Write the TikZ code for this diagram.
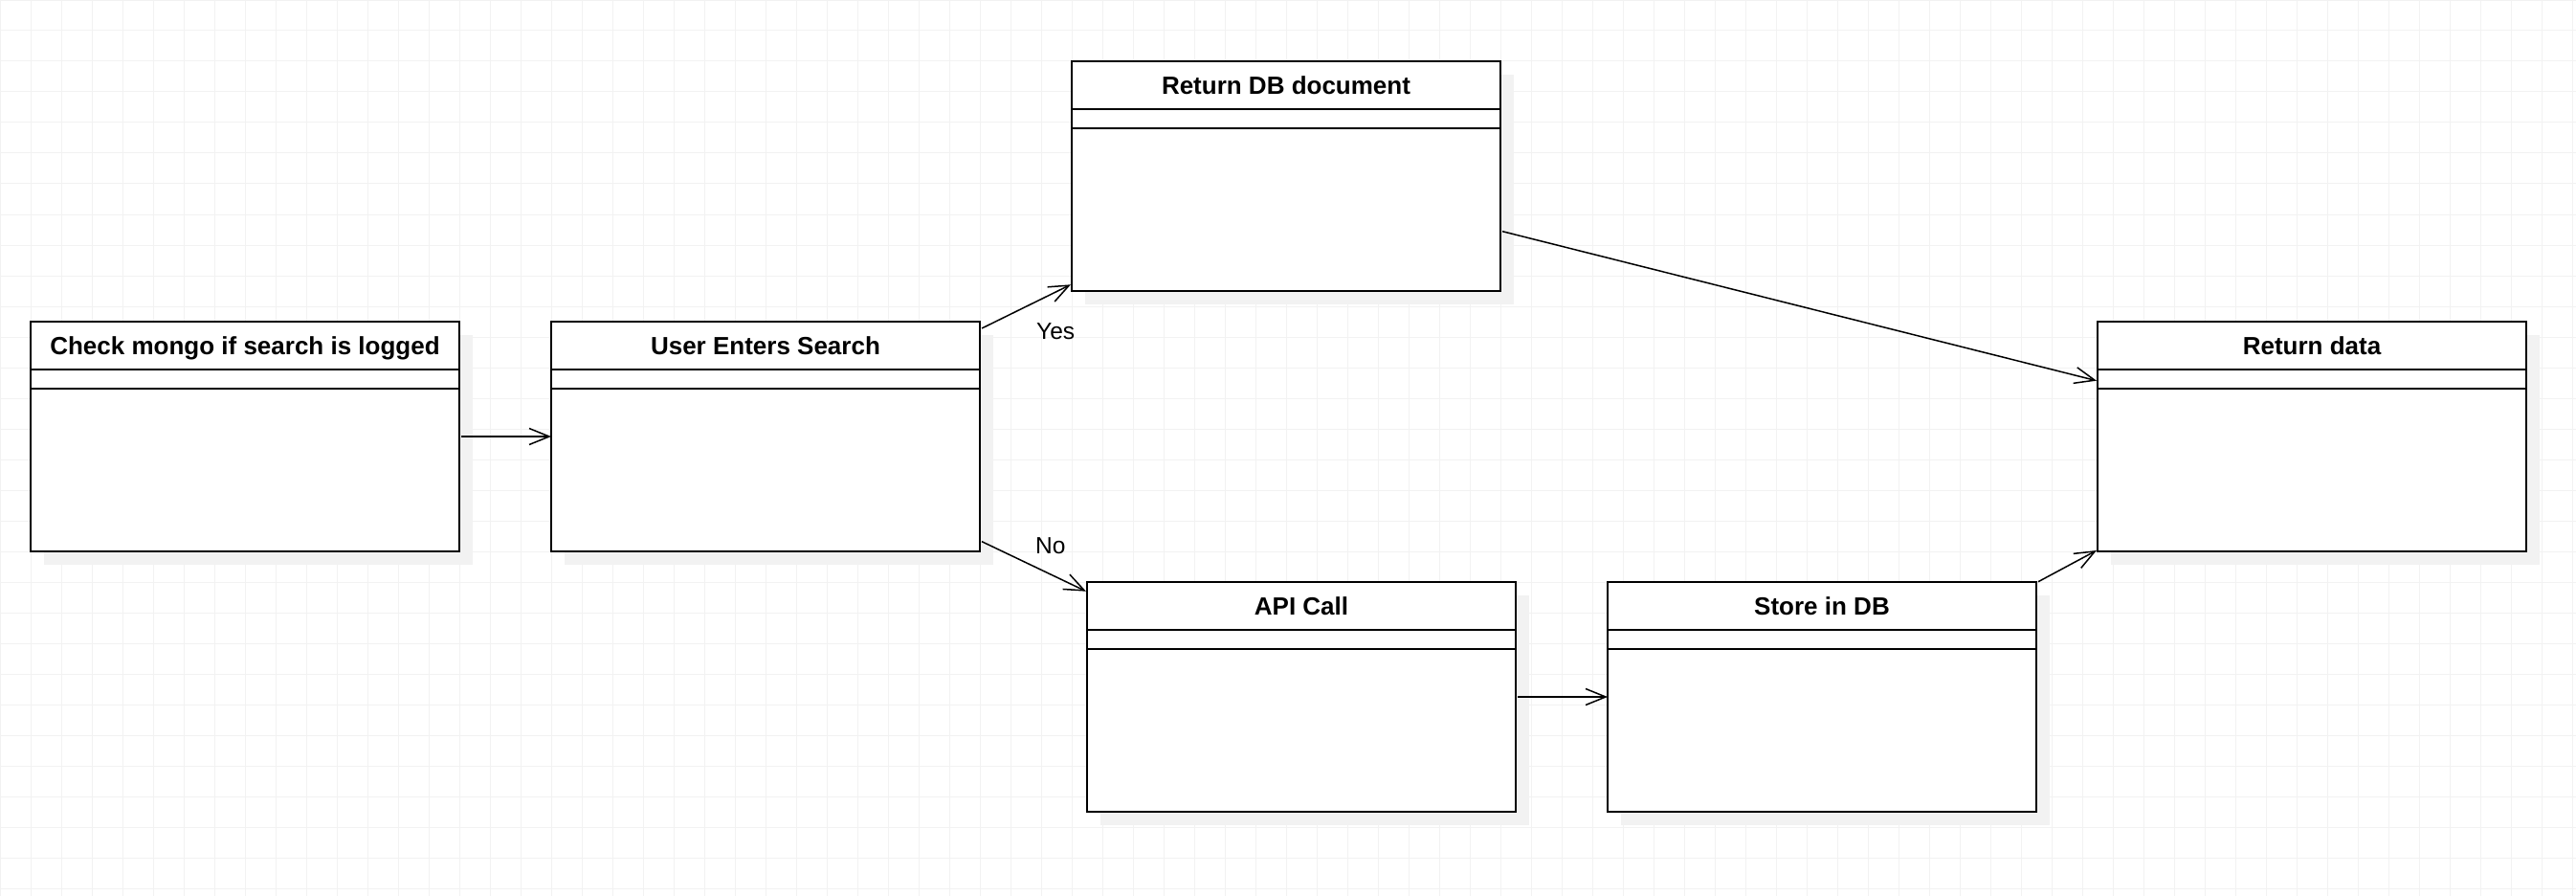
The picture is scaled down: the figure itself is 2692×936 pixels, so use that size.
\documentclass[tikz,border=0pt]{standalone}
\usepackage{fontspec}
\setmainfont{Liberation Sans}
\usetikzlibrary{arrows.meta,calc}
\definecolor{gridc}{RGB}{242,242,242}
\definecolor{shadowc}{RGB}{242,242,242}
\newcommand\umlclass[4]{%
  \fill[shadowc] (#2+14,-#3-14) rectangle (#2+462,-#3-254);
  \node[classbox] (#1) at (#2,-#3) {};
  \draw[divline] ($(#1.north west)+(0,-50)$) -- ($(#1.north east)+(0,-50)$);
  \draw[divline] ($(#1.north west)+(0,-70)$) -- ($(#1.north east)+(0,-70)$);
  \node[classtitle] (#1-t) at ($(#1.north)+(0,-34.5)$) {#4};
}
\begin{document}
\begin{tikzpicture}[x=1pt,y=1pt,
  classbox/.style={draw=black, line width=1.6pt, fill=white, minimum width=448pt, minimum height=240pt, inner sep=0pt, outer sep=0pt, anchor=north west},
  divline/.style={draw=black, line width=1.6pt},
  classtitle/.style={font=\bfseries\fontsize{26}{30}\selectfont, anchor=base, inner sep=0pt},
  lbl/.style={font=\fontsize{24.5}{29}\selectfont, anchor=base west, inner sep=0pt},
  conn/.style={draw=black, line width=1.5pt, -{Straight Barb[length=21pt,width=17pt]}},
]
\useasboundingbox (0,0) rectangle (2692,-936);
\fill[white] (0,0) rectangle (2692,-936);
\draw[gridc, line width=1pt, step=32pt] (0,-936) grid (2692,0);

\umlclass{check}{32}{336}{Check mongo if search is logged}
\umlclass{user}{576}{336}{User Enters Search}
\umlclass{retdb}{1120}{64}{Return DB document}
\umlclass{retdata}{2192}{336}{Return data}
\umlclass{api}{1136}{608}{API Call}
\umlclass{store}{1680}{608}{Store in DB}

\draw[conn] ([xshift=2pt]check.east) -- (user.west);
\draw[conn] ([shift={(2pt,-7pt)}]user.north east) -- ([shift={(-1pt,6.7pt)}]retdb.south west);
\draw[conn] ([shift={(2pt,10.3pt)}]user.south east) -- ([shift={(-1pt,-9.7pt)}]api.north west);
\draw[conn] ([xshift=2pt]api.east) -- (store.west);
\draw[conn] ([shift={(2pt,-57.7pt)}]retdb.east) -- ([shift={(-1pt,58.3pt)}]retdata.west);
\draw[conn] ([shift={(2pt,0.3pt)}]store.north east) -- ([shift={(-1pt,1pt)}]retdata.south west);

\node[lbl] (yes) at (1083,-354) {Yes};
\node[lbl] (no) at (1082,-578.3) {No};
\end{tikzpicture}
\end{document}
